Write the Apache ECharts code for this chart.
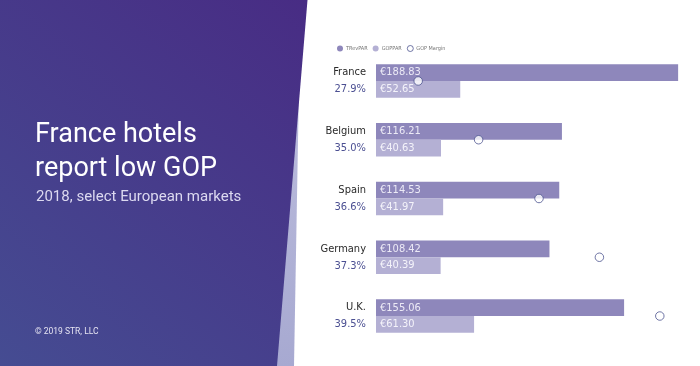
<!DOCTYPE html>
<html>
<head>
<meta charset="utf-8">
<script src="https://cdn.jsdelivr.net/npm/echarts@6/dist/echarts.min.js"></script>
<style>
html,body{margin:0;padding:0;background:#fff;}
#chart{width:700px;height:366px;}
</style>
</head>
<body>
<div id="chart"></div>
<script>
// ---- data ----
const countries = ['France', 'Belgium', 'Spain', 'Germany', 'U.K.'];
const trevpar = [188.83, 116.21, 114.53, 108.42, 155.06];
const goppar = [52.65, 40.63, 41.97, 40.39, 61.30];
const gopMargin = [27.9, 35.0, 36.6, 37.3, 39.5];
const seriesNames = ['TRevPAR', 'GOPPAR', 'GOP Margin'];

const marginLabels = gopMargin.map(v => v.toFixed(1) + '%');
const narrow = "'Liberation Sans Narrow','DejaVu Sans Condensed',sans-serif";

const chart = echarts.init(document.getElementById('chart'), null, {renderer: 'canvas'});

const option = {
  animation: false,
  backgroundColor: '#ffffff',
  graphic: [
    {
      type: 'polygon', z: -10, silent: true,
      shape: {points: [[0, 0], [300.5, 0], [294, 366], [0, 366]]},
      style: {fill: new echarts.graphic.LinearGradient(0, 0, 0, 1, [
        {offset: 0, color: '#c2c3e0'}, {offset: 1, color: '#a7a9d1'}])}
    },
    {
      type: 'polygon', z: -9, silent: true,
      shape: {points: [[0, 0], [307.5, 0], [277, 366], [0, 366]]},
      style: {fill: new echarts.graphic.LinearGradient(1, 0, 0, 1, [
        {offset: 0, color: '#482c84'}, {offset: 1, color: '#454c92'}])}
    }
  ],
  title: [
    {
      text: 'France hotels\nreport low GOP',
      left: 35, top: 118, padding: 0,
      textStyle: {color: '#ffffff', fontFamily: 'Roboto', fontWeight: 'normal', fontSize: 27, lineHeight: 34}
    },
    {
      text: '2018, select European markets',
      left: 36, top: 188, padding: 0,
      textStyle: {color: '#dcd9f0', fontFamily: 'Roboto', fontWeight: 'normal', fontSize: 15, lineHeight: 18}
    },
    {
      text: '© 2019 STR, LLC',
      left: 35, top: 326, padding: 0,
      textStyle: {color: '#e6e4f2', fontFamily: 'Roboto', fontWeight: 'normal', fontSize: 8.5, lineHeight: 12}
    }
  ],
  legend: {
    left: 332, top: 40,
    itemWidth: 6, itemHeight: 6, itemGap: 5,
    data: [
      {name: seriesNames[0], icon: 'circle'},
      {name: seriesNames[1], icon: 'circle'},
      {name: seriesNames[2], icon: 'circle', itemStyle: {color: '#ffffff', borderColor: '#4d5590', borderWidth: 1}}
    ],
    textStyle: {fontSize: 5.5, color: '#777777', fontFamily: narrow, padding: [0, 0, 0, -2]}
  },
  grid: [
    {left: 376, right: 4, top: 51.6, bottom: 20.6},
    {left: 388, right: 10, top: 51.6, bottom: 20.6}
  ],
  xAxis: [
    {type: 'value', gridIndex: 0, min: 0, max: 200, show: false},
    {type: 'category', gridIndex: 1, data: marginLabels, boundaryGap: true, show: false}
  ],
  yAxis: [
    {
      type: 'category', gridIndex: 0, data: countries, inverse: true,
      axisLine: {show: false}, axisTick: {show: false}, splitLine: {show: false},
      axisLabel: {
        margin: 10,
        formatter: function (v, i) { return '{c|' + v + '}\n{m|' + marginLabels[i] + '}'; },
        rich: {
          c: {fontFamily: narrow, fontSize: 11, color: '#2a2a2a', fontWeight: 'normal', lineHeight: 17, align: 'right'},
          m: {fontFamily: narrow, fontSize: 11, color: '#4b4f92', lineHeight: 17, align: 'right'}
        }
      }
    },
    {type: 'category', gridIndex: 1, data: countries, inverse: true, show: false}
  ],
  series: [
    {
      name: seriesNames[0], type: 'bar', xAxisIndex: 0, yAxisIndex: 0,
      data: trevpar, barWidth: 16.7, barGap: '0%',
      itemStyle: {color: '#8e87bb'},
      label: {show: true, position: 'insideLeft', distance: 4,
        formatter: p => '€' + p.value.toFixed(2),
        fontFamily: narrow, fontSize: 11, color: '#eceaf6'}
    },
    {
      name: seriesNames[1], type: 'bar', xAxisIndex: 0, yAxisIndex: 0,
      data: goppar, barWidth: 16.7, barGap: '0%',
      itemStyle: {color: '#b4b0d4'},
      label: {show: true, position: 'insideLeft', distance: 4,
        formatter: p => '€' + p.value.toFixed(2),
        fontFamily: narrow, fontSize: 11, color: '#f4f3fa'}
    },
    {
      name: seriesNames[2], type: 'scatter', xAxisIndex: 1, yAxisIndex: 1,
      data: countries.map((c, i) => [marginLabels[i], c]),
      symbol: 'circle', symbolSize: 8.5, z: 5,
      itemStyle: {color: '#ffffff', borderColor: '#4d5590', borderWidth: 1}
    }
  ]
};
chart.setOption(option);
</script>
</body>
</html>
